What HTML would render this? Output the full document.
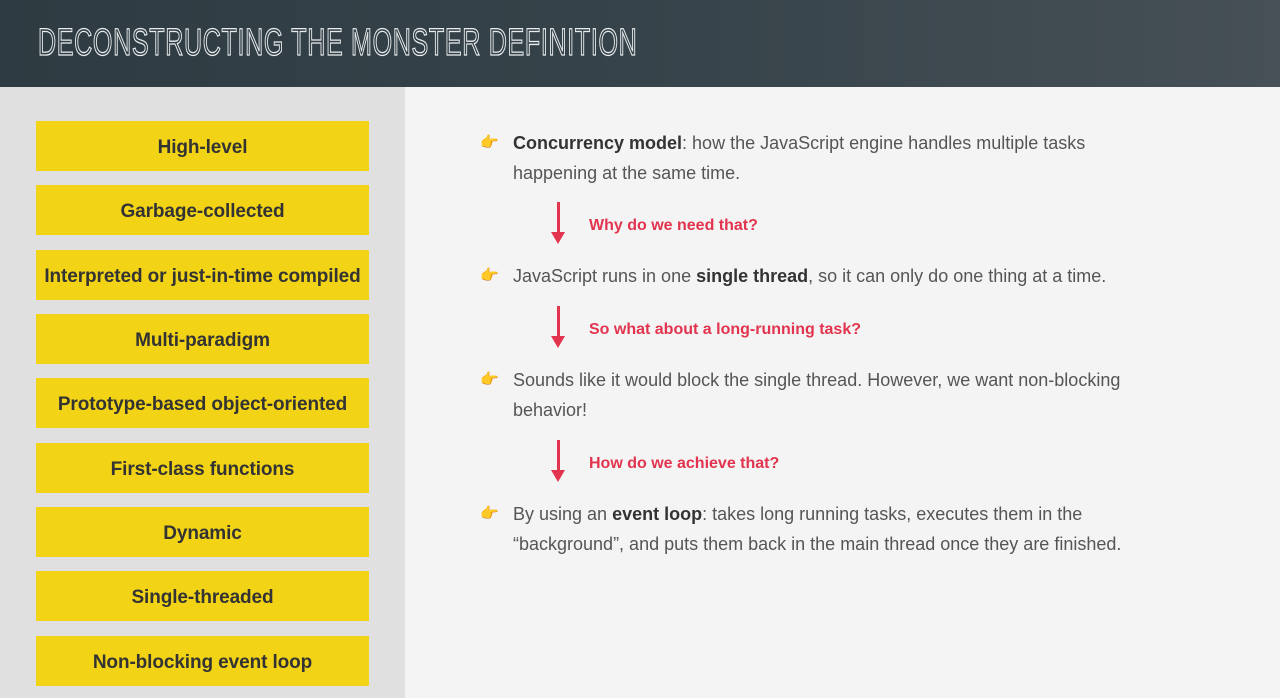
<!DOCTYPE html>
<html><head><meta charset="utf-8"><style>
*{margin:0;padding:0;box-sizing:border-box}
body{width:1280px;height:698px;overflow:hidden;font-family:"Liberation Sans",sans-serif;background:#f4f4f4;position:relative}
.hdr{position:absolute;left:0;top:0;width:1280px;height:87px;background:linear-gradient(90deg,#2e3b42,#36434a 50%,#465056)}
.title{position:absolute;left:38px;top:22px;font-size:38px;letter-spacing:1px;color:transparent;-webkit-text-stroke:1.3px #e8ecee;transform:scaleX(0.66);transform-origin:left top;white-space:nowrap;font-weight:normal}
.left{position:absolute;left:0;top:87px;width:405px;height:611px;background:#e0e0e0}
.box{position:absolute;left:36px;width:333px;height:50px;padding-top:4px;background:#f2d316;color:#333;font-size:19px;font-weight:bold;display:flex;align-items:center;justify-content:center;letter-spacing:-0.1px}
.p{position:absolute;left:513px;font-size:18px;line-height:30px;color:#555;width:660px}
.p b{color:#333}
.hand{position:absolute;left:480px;font-size:15px;color:#e8a020}
.q{position:absolute;left:589px;font-size:16px;font-weight:bold;color:#e2344f}
.arr{position:absolute;left:557px;width:3px;background:#e2344f}
.arr:after{content:"";position:absolute;left:-6px;bottom:-10px;border-left:7.5px solid transparent;border-right:7.5px solid transparent;border-top:12px solid #e2344f}
</style></head><body>
<div class="hdr"><div class="title">DECONSTRUCTING THE MONSTER DEFINITION</div></div>
<div class="left"></div>
<div class="box" style="top:121px">High-level</div>
<div class="box" style="top:185px">Garbage-collected</div>
<div class="box" style="top:250px">Interpreted or just-in-time compiled</div>
<div class="box" style="top:314px">Multi-paradigm</div>
<div class="box" style="top:378px">Prototype-based object-oriented</div>
<div class="box" style="top:443px">First-class functions</div>
<div class="box" style="top:507px">Dynamic</div>
<div class="box" style="top:571px">Single-threaded</div>
<div class="box" style="top:636px">Non-blocking event loop</div>

<div class="hand" style="top:133px">👉</div>
<div class="p" style="top:128px"><b>Concurrency model</b>: how the JavaScript engine handles multiple tasks happening at the same time.</div>
<div class="arr" style="top:202px;height:32px"></div>
<div class="q" style="top:217px">Why do we need that?</div>

<div class="hand" style="top:266px">👉</div>
<div class="p" style="top:261px">JavaScript runs in one <b>single thread</b>, so it can only do one thing at a time.</div>
<div class="arr" style="top:306px;height:32px"></div>
<div class="q" style="top:321px">So what about a long-running task?</div>

<div class="hand" style="top:370px">👉</div>
<div class="p" style="top:365px">Sounds like it would block the single thread. However, we want non-blocking behavior!</div>
<div class="arr" style="top:440px;height:32px"></div>
<div class="q" style="top:455px">How do we achieve that?</div>

<div class="hand" style="top:504px">👉</div>
<div class="p" style="top:499px;width:640px">By using an <b>event loop</b>: takes long running tasks, executes them in the “background”, and puts them back in the main thread once they are finished.</div>
</body></html>
